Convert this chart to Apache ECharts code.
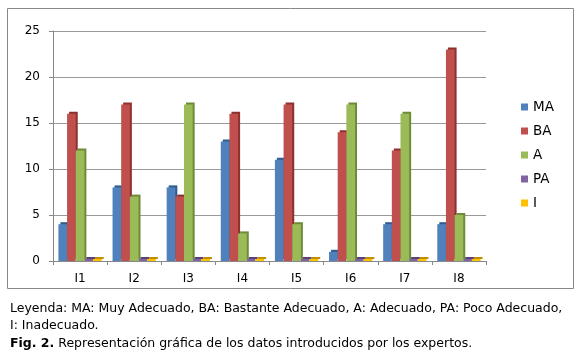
<!DOCTYPE html>
<html><head><meta charset="utf-8">
<script src="https://cdn.jsdelivr.net/npm/echarts@6/dist/echarts.min.js"></script>
<style>html,body{margin:0;padding:0;background:#fff}#c{width:580px;height:358px}</style>
</head><body><div id="c"></div>
<script>
const categories = ['I1','I2','I3','I4','I5','I6','I7','I8'];
const seriesNames = ['MA','BA','A','PA','I'];
const MA = [4, 8, 8, 13, 11, 1, 4, 4];
const BA = [16, 17, 7, 16, 17, 14, 12, 23];
const A  = [12, 7, 17, 3, 4, 17, 16, 5];
const PA = [0, 0, 0, 0, 0, 0, 0, 0];
const I  = [0, 0, 0, 0, 0, 0, 0, 0];
const yTicks = [0, 5, 10, 15, 20, 25];
const captionLine1 = 'Leyenda: MA: Muy Adecuado, BA: Bastante Adecuado, A: Adecuado, PA: Poco Adecuado,';
const captionLine2 = 'I: Inadecuado.';
const captionBold = 'Fig. 2.';
const captionRest = ' Representación gráfica de los datos introducidos por los expertos.';

const colors = ['#4F81BD','#C0504D','#9BBB59','#8064A2','#FFC000'];
const darks  = ['#2F5C8F','#8E302D','#6E8C38','#5A4278','#C08F00'];
const values = [MA, BA, A, PA, I];

const chart = echarts.init(document.getElementById('c'));
chart.setOption({
  animation: false,
  textStyle: {fontFamily: 'DejaVu Sans'},
  grid: {left: 53, right: 94, top: 31, bottom: 97},
  legend: {
    orient: 'vertical', left: 516, top: 95,
    itemWidth: 7, itemHeight: 7, itemGap: 10,
    textStyle: {fontSize: 13.5, color: '#000', fontFamily: 'DejaVu Sans'},
    data: seriesNames.map((n, i) => ({name: n, icon: 'rect', itemStyle: {color: colors[i]}}))
  },
  xAxis: {
    type: 'category', data: categories,
    axisLine: {lineStyle: {color: '#888'}},
    axisTick: {show: true, lineStyle: {color: '#888'}, length: 4},
    axisLabel: {fontSize: 12, color: '#000', margin: 12}
  },
  yAxis: {
    type: 'value', min: yTicks[0], max: yTicks[yTicks.length-1], interval: 5,
    axisLine: {show: true, lineStyle: {color: '#888'}},
    axisTick: {show: true, lineStyle: {color: '#888'}, length: 4},
    axisLabel: {fontSize: 12, color: '#000', margin: 13},
    splitLine: {lineStyle: {color: '#999', width: 1}}
  },
  series: seriesNames.map((n, i) => ({
    name: n, type: 'bar', data: values[i],
    barGap: '0%', barCategoryGap: '20%',
    barMinHeight: (n === 'PA' || n === 'I') ? 2 : 0,
    itemStyle: {color: colors[i], shadowColor: darks[i], shadowBlur: 0, shadowOffsetX: 2, shadowOffsetY: -2}
  })),
  graphic: [
    {type: 'rect', shape: {x: 7.5, y: 8.5, width: 566, height: 280}, style: {fill: 'none', stroke: '#888', lineWidth: 1}, z: -1},
    {type: 'text', left: 10, top: 302, style: {text: captionLine1, font: '12.5px DejaVu Sans', fill: '#000'}},
    {type: 'text', left: 10, top: 319, style: {text: captionLine2, font: '12.5px DejaVu Sans', fill: '#000'}},
    {type: 'text', left: 10, top: 337, style: {rich: {b: {fontWeight: 'bold', fontSize: 12.5, fontFamily: 'DejaVu Sans'}, r: {fontSize: 12.5, fontFamily: 'DejaVu Sans'}}, text: '{b|' + captionBold + '}{r|' + captionRest + '}', fill: '#000'}}
  ]
});
</script></body></html>
